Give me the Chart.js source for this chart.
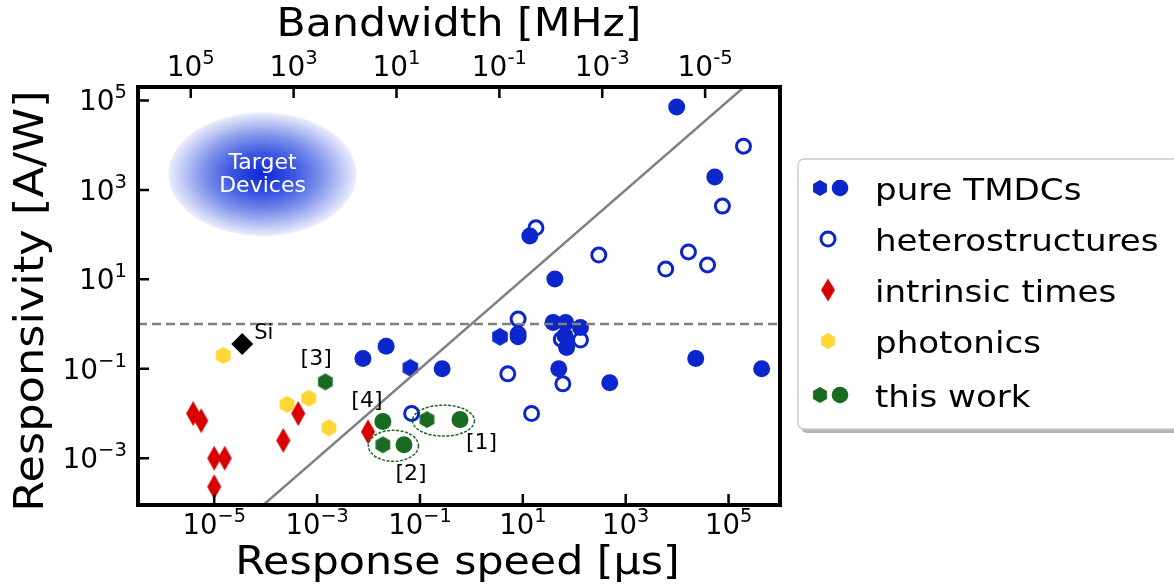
<!DOCTYPE html>
<html>
<head>
<meta charset="utf-8">
<title>Responsivity vs response speed</title>
<script src="https://cdn.jsdelivr.net/npm/chart.js@4.4.1/dist/chart.umd.min.js"></script>
<style>
  html, body { margin: 0; padding: 0; background: #fff; }
  canvas { display: block; }
</style>
</head>
<body>
<canvas id="chart" width="1174" height="585"></canvas>
<script>
// response time [µs] and responsivity [A/W] for each group
const tmdcT = [9800, 5.4e4, 13.7, 42, 8.1, 38.8, 68, 132, 66, 71, 50, 490, 2.3e4, 4.4e5, 0.0078, 0.022, 0.27];
const tmdcR = [7.1e4, 1940, 93, 10.2, 0.52, 1.08, 1.08, 0.84, 0.55, 0.30, 0.1, 0.049, 0.17, 0.1, 0.17, 0.32, 0.1];
const tmdcHexT = [3.6, 0.065];
const tmdcHexR = [0.52, 0.105];
const heteroT = [1.95e5, 7.6e4, 18, 300, 6000, 1.66e4, 3.9e4, 8.1, 8.1, 56, 132, 60, 5.1, 14.8, 0.069];
const heteroR = [9500, 434, 142, 35, 17, 41, 21, 1.29, 0.6, 0.46, 0.44, 0.046, 0.077, 0.01, 0.01];
const intrinsicT = [3.9e-6, 5.6e-6, 4.3e-4, 2.2e-4, 0.0098, 1e-5, 1.6e-5, 1e-5];
const intrinsicR = [0.01, 0.0069, 0.01, 0.0025, 0.0039, 0.001, 0.001, 2.3e-4];
const photonicT = [1.5e-5, 6.9e-4, 2.6e-4, 0.0017];
const photonicR = [0.2, 0.022, 0.016, 0.0048];
const siT = [3.5e-5];
const siR = [0.36];
const workHexT = [0.00145, 0.137, 0.019];
const workHexR = [0.051, 0.0073, 0.002];
const workDotT = [0.019, 0.6, 0.049];
const workDotR = [0.0066, 0.0073, 0.002];

// citation tags next to "this work" points
const refText = ['[1]', '[2]', '[3]', '[4]'];
const refT = [1.58, 0.067, 9.6e-4, 0.0093];
const refR = [0.0022, 4.3e-4, 0.167, 0.019];
// index pairs (hexagon, dot) of "this work" points that are circled
const ringPairs = [[1, 1], [2, 2]];

// "Target Devices" blob: centre and half-axes in decades
const targetT = 8.7e-5, targetR = 2240, targetSpanT = 1.83, targetSpanR = 1.38;

const xTicks = [1e-5, 1e-3, 1e-1, 1e1, 1e3, 1e5];
const yTicks = [1e-3, 1e-1, 1e1, 1e3, 1e5];
const bwTicks = [1e5, 1e3, 1e1, 1e-1, 1e-3, 1e-5];
const bwFactor = 0.35; // bandwidth [MHz] = 0.35 / rise time [µs]

const xMin = 3.3e-7, xMax = 1e6, yMin = 9e-5, yMax = 2e5;

const FONT = '"DejaVu Sans", Verdana, sans-serif';
const BLUE = '#0b26cc';
const RED = '#d80000';
const GOLD = '#ffd633';
const GREEN = '#1a6b22';

const pts = (xs, ys) => xs.map((x, i) => ({ x, y: ys[i] }));

function markerCanvas(w, h, draw) {
    const c = document.createElement('canvas');
    c.width = w;
    c.height = h;
    draw(c.getContext('2d'), w, h);
    return c;
}

function hexMarker(color, r) {
    const size = Math.ceil(2 * r + 2);
    return markerCanvas(size, size, (g, w, h) => {
        g.fillStyle = color;
        g.beginPath();
        for (let i = 0; i < 6; i++) {
            const a = -Math.PI / 2 + i * Math.PI / 3;
            const px = w / 2 + r * Math.cos(a), py = h / 2 + r * Math.sin(a);
            if (i) g.lineTo(px, py); else g.moveTo(px, py);
        }
        g.closePath();
        g.fill();
    });
}

function thinDiamond(color, hw, hh) {
    const w = Math.ceil(2 * hw + 2), h = Math.ceil(2 * hh + 2);
    return markerCanvas(w, h, (g) => {
        g.fillStyle = color;
        g.beginPath();
        g.moveTo(w / 2, h / 2 - hh);
        g.lineTo(w / 2 + hw, h / 2);
        g.lineTo(w / 2, h / 2 + hh);
        g.lineTo(w / 2 - hw, h / 2);
        g.closePath();
        g.fill();
    });
}

const hexBlue = hexMarker(BLUE, 9);
const hexGold = hexMarker(GOLD, 8.5);
const hexGreen = hexMarker(GREEN, 8.5);
const diamondRed = thinDiamond(RED, 7, 12.5);

function scatterSet(label, data, style, extra) {
    return Object.assign({
        label, data,
        pointStyle: style,
        pointRadius: 8,
        pointHoverRadius: 8,
        borderWidth: 0,
        order: 2
    }, extra);
}

// "10" with a raised exponent, mathtext style
function drawPow(ctx, x, y, v, size, align, minus) {
    const exp = String(Math.round(Math.log10(v))).replace('-', minus);
    ctx.textAlign = 'left';
    ctx.textBaseline = 'alphabetic';
    ctx.font = `${size}px ${FONT}`;
    const wb = ctx.measureText('10').width;
    ctx.font = `${size * 0.7}px ${FONT}`;
    const ws = ctx.measureText(exp).width;
    const x0 = align === 'center' ? x - (wb + ws) / 2 : x - (wb + ws);
    ctx.font = `${size}px ${FONT}`;
    ctx.fillText('10', x0, y);
    ctx.font = `${size * 0.7}px ${FONT}`;
    ctx.fillText(exp, x0 + wb, y - size * 0.43);
}

// the figure's label font is a little wider than DejaVu, so stretch it
function wideText(ctx, text, x, y, size, sx, align, rotate) {
    ctx.save();
    ctx.translate(x, y);
    if (rotate) ctx.rotate(-Math.PI / 2);
    ctx.scale(sx, 1);
    ctx.font = `${size}px ${FONT}`;
    ctx.textAlign = align;
    ctx.textBaseline = 'alphabetic';
    ctx.fillStyle = '#000';
    ctx.fillText(text, 0, 0);
    ctx.restore();
}

function drawLegend(ctx) {
    const left = 798, top = 159, w = 390, h = 270;
    ctx.save();
    ctx.fillStyle = 'rgba(120,120,120,0.55)';
    ctx.beginPath();
    ctx.roundRect(left + 3, top + 4, w, h, 6);
    ctx.fill();
    ctx.fillStyle = '#fff';
    ctx.strokeStyle = '#cccccc';
    ctx.lineWidth = 1.5;
    ctx.beginPath();
    ctx.roundRect(left, top, w, h, 6);
    ctx.fill();
    ctx.stroke();

    const items = [
        { text: 'pure TMDCs', marks: [hexMarker(BLUE, 8), 'dot'], color: BLUE },
        { text: 'heterostructures', marks: ['ring'], color: BLUE },
        { text: 'intrinsic times', marks: [thinDiamond(RED, 7, 11.5)], color: RED },
        { text: 'photonics', marks: [hexMarker(GOLD, 8)], color: GOLD },
        { text: 'this work', marks: [hexMarker(GREEN, 8), 'dot'], color: GREEN }
    ];
    items.forEach((item, i) => {
        const cy = 188 + i * 51 + (i === 4 ? 3 : 0);
        const xs = item.marks.length === 2 ? [820, 840] : [828];
        item.marks.forEach((m, j) => {
            const cx = xs[j];
            if (m === 'dot') {
                ctx.fillStyle = item.color;
                ctx.beginPath();
                ctx.arc(cx, cy, 8.3, 0, Math.PI * 2);
                ctx.fill();
            } else if (m === 'ring') {
                ctx.strokeStyle = item.color;
                ctx.lineWidth = 3;
                ctx.beginPath();
                ctx.arc(cx, cy, 7, 0, Math.PI * 2);
                ctx.stroke();
            } else {
                ctx.drawImage(m, cx - m.width / 2, cy - m.height / 2);
            }
        });
        wideText(ctx, item.text, 875, cy + 12, 31, 1.1, 'left', false);
    });
    ctx.restore();
}

const decorations = {
    id: 'decorations',
    beforeDatasetsDraw(chart) {
        const { ctx, scales: { x, y } } = chart;
        const cx = x.getPixelForValue(targetT), cy = y.getPixelForValue(targetR);
        const rx = x.getPixelForValue(targetT * Math.pow(10, targetSpanT)) - cx;
        const ry = cy - y.getPixelForValue(targetR * Math.pow(10, targetSpanR));
        ctx.save();
        ctx.translate(cx, cy);
        ctx.scale(1, ry / rx);
        const g = ctx.createRadialGradient(0, 0, 0, 0, 0, rx);
        g.addColorStop(0, 'rgb(12,38,215)');
        g.addColorStop(0.35, 'rgb(62,88,226)');
        g.addColorStop(0.62, 'rgb(125,145,234)');
        g.addColorStop(0.86, 'rgb(195,204,245)');
        g.addColorStop(1, 'rgb(236,238,251)');
        ctx.fillStyle = g;
        ctx.beginPath();
        ctx.arc(0, 0, rx, 0, Math.PI * 2);
        ctx.fill();
        ctx.restore();

        ctx.save();
        ctx.fillStyle = '#fff';
        ctx.font = `22px ${FONT}`;
        ctx.textAlign = 'center';
        ctx.textBaseline = 'middle';
        ctx.fillText('Target', cx, cy - 11);
        ctx.fillText('Devices', cx, cy + 12);
        ctx.restore();
    },
    afterDatasetsDraw(chart) {
        const { ctx, scales: { x, y } } = chart;
        ctx.save();
        // dashed rings around paired measurements
        ctx.strokeStyle = GREEN;
        ctx.lineWidth = 1.5;
        ctx.setLineDash([3, 1.5]);
        ringPairs.forEach(([h, d]) => {
            const x1 = x.getPixelForValue(workHexT[h]), y1 = y.getPixelForValue(workHexR[h]);
            const x2 = x.getPixelForValue(workDotT[d]), y2 = y.getPixelForValue(workDotR[d]);
            const rx = Math.abs(x2 - x1) / 2 + 14.5;
            ctx.beginPath();
            ctx.ellipse((x1 + x2) / 2, (y1 + y2) / 2 + 1, rx, 15.5, 0, 0, Math.PI * 2);
            ctx.stroke();
        });
        ctx.setLineDash([]);

        ctx.fillStyle = '#000';
        ctx.font = `22px ${FONT}`;
        ctx.textAlign = 'center';
        ctx.textBaseline = 'middle';
        refText.forEach((t, i) => {
            ctx.fillText(t, x.getPixelForValue(refT[i]), y.getPixelForValue(refR[i]));
        });
        ctx.font = `21px ${FONT}`;
        ctx.textAlign = 'left';
        ctx.fillText('Si', x.getPixelForValue(siT[0]) + 12, y.getPixelForValue(siR[0]) - 10);
        ctx.restore();
    },
    afterDraw(chart) {
        const { ctx, chartArea: a, scales: { x, x2, y } } = chart;
        ctx.save();
        ctx.strokeStyle = '#000';
        ctx.fillStyle = '#000';
        ctx.lineWidth = 2.5;
        ctx.beginPath();
        xTicks.forEach(v => {
            const px = x.getPixelForValue(v);
            ctx.moveTo(px, a.bottom);
            ctx.lineTo(px, a.bottom - 11);
        });
        bwTicks.forEach(v => {
            const px = x2.getPixelForValue(v);
            ctx.moveTo(px, a.top);
            ctx.lineTo(px, a.top + 11);
        });
        yTicks.forEach(v => {
            const py = y.getPixelForValue(v);
            ctx.moveTo(a.left, py);
            ctx.lineTo(a.left + 11, py);
        });
        ctx.stroke();
        ctx.lineWidth = 4;
        ctx.strokeRect(a.left, a.top, a.right - a.left, a.bottom - a.top);

        xTicks.forEach(v => drawPow(ctx, x.getPixelForValue(v), a.bottom + 29, v, 27.5, 'center', '\u2212'));
        bwTicks.forEach(v => drawPow(ctx, x2.getPixelForValue(v), a.top - 11, v, 28, 'center', '-'));
        yTicks.forEach(v => drawPow(ctx, a.left - 11, y.getPixelForValue(v) + 10, v, 28, 'right', '\u2212'));

        // axis titles
        const midX = (a.left + a.right) / 2;
        wideText(ctx, 'Response speed [\u00b5s]', midX - 1.5, 574, 38.5, 1.11, 'center', false);
        wideText(ctx, 'Bandwidth [MHz]', midX, 36, 38.5, 1.107, 'center', false);
        wideText(ctx, 'Responsivity [A/W]', 43, (a.top + a.bottom) / 2 + 5, 41, 1.09, 'center', true);
        ctx.restore();

        drawLegend(ctx);
    }
};

const hiddenAxis = {
    grid: { display: false },
    border: { display: false },
    ticks: { display: false },
    title: { display: false }
};

new Chart(document.getElementById('chart'), {
    type: 'scatter',
    data: {
        datasets: [
            {
                label: 'R = t',
                data: [{ x: xMin, y: xMin }, { x: xMax, y: xMax }],
                showLine: true,
                borderColor: '#808080',
                borderWidth: 2.5,
                pointRadius: 0,
                order: 0
            },
            {
                label: '1 A/W',
                data: [{ x: xMin, y: 1 }, { x: xMax, y: 1 }],
                showLine: true,
                borderColor: '#808080',
                borderWidth: 2.5,
                borderDash: [9, 5],
                pointRadius: 0,
                order: 0
            },
            scatterSet('heterostructures', pts(heteroT, heteroR), 'circle',
                { pointRadius: 7, pointHoverRadius: 7, borderWidth: 3, borderColor: BLUE, backgroundColor: '#fff', order: 4 }),
            scatterSet('pure TMDCs', pts(tmdcT, tmdcR), 'circle', { pointRadius: 8.5, pointHoverRadius: 8.5, backgroundColor: BLUE }),
            scatterSet('pure TMDCs (hex)', pts(tmdcHexT, tmdcHexR), hexBlue),
            scatterSet('intrinsic times', pts(intrinsicT, intrinsicR), diamondRed),
            scatterSet('photonics', pts(photonicT, photonicR), hexGold),
            scatterSet('Si', pts(siT, siR), 'rectRot', { pointRadius: 11, pointHoverRadius: 11, backgroundColor: '#000' }),
            scatterSet('this work (hex)', pts(workHexT, workHexR), hexGreen),
            scatterSet('this work', pts(workDotT, workDotR), 'circle', { pointRadius: 8.5, pointHoverRadius: 8.5, backgroundColor: GREEN })
        ]
    },
    options: {
        responsive: false,
        devicePixelRatio: 1,
        animation: false,
        events: [],
        layout: { padding: { left: 0, right: 394, top: 0, bottom: 0 } },
        plugins: { legend: { display: false }, tooltip: { enabled: false } },
        scales: {
            x: Object.assign({}, hiddenAxis, {
                type: 'logarithmic',
                position: 'bottom',
                min: xMin,
                max: xMax,
                afterFit: s => { s.height = 80; }
            }),
            x2: Object.assign({}, hiddenAxis, {
                type: 'logarithmic',
                position: 'top',
                reverse: true,
                min: bwFactor / xMax,
                max: bwFactor / xMin,
                afterFit: s => { s.height = 87; }
            }),
            y: Object.assign({}, hiddenAxis, {
                type: 'logarithmic',
                position: 'left',
                min: yMin,
                max: yMax,
                afterFit: s => { s.width = 138; }
            })
        }
    },
    plugins: [decorations]
});
</script>
</body>
</html>
